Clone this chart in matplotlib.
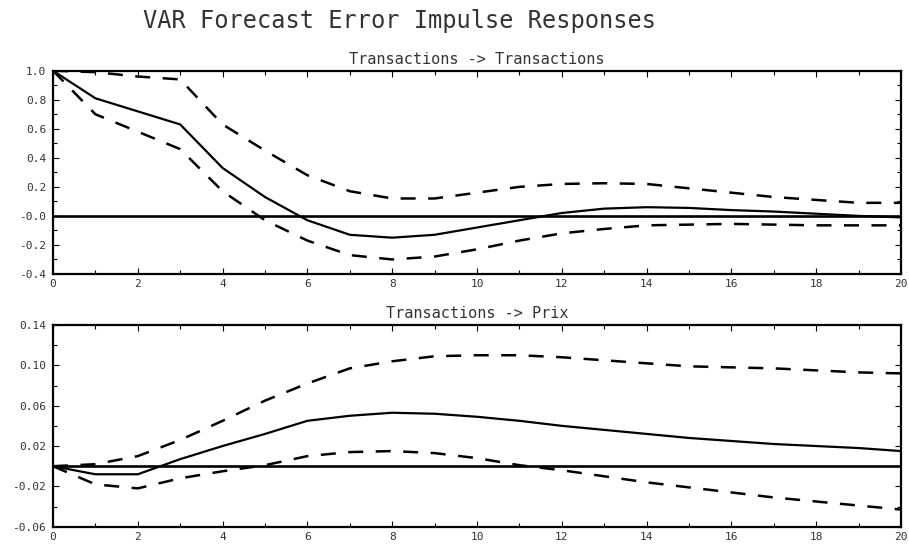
import matplotlib
matplotlib.use("Agg")
import matplotlib.pyplot as plt
import numpy as np
from matplotlib.ticker import MultipleLocator, FixedLocator

# ---------------------------------------------------------------------------
# Data
# ---------------------------------------------------------------------------
steps = np.arange(21)

tt_resp = [1.0, 0.81, 0.72, 0.63, 0.33, 0.13, -0.03, -0.13, -0.15, -0.13, -0.08,
           -0.03, 0.02, 0.05, 0.06, 0.055, 0.04, 0.03, 0.015, 0.0, -0.01]
tt_upper = [1.0, 0.99, 0.96, 0.94, 0.63, 0.45, 0.28, 0.17, 0.12, 0.12, 0.16,
            0.20, 0.22, 0.225, 0.22, 0.19, 0.16, 0.13, 0.11, 0.09, 0.09]
tt_lower = [1.0, 0.70, 0.58, 0.46, 0.17, -0.03, -0.17, -0.27, -0.30, -0.28, -0.23,
            -0.17, -0.12, -0.09, -0.065, -0.06, -0.055, -0.06, -0.065, -0.065, -0.065]

tp_resp = [0.0, -0.008, -0.008, 0.007, 0.02, 0.032, 0.045, 0.050, 0.053, 0.052, 0.049,
           0.045, 0.040, 0.036, 0.032, 0.028, 0.025, 0.022, 0.020, 0.018, 0.015]
tp_upper = [0.0, 0.002, 0.010, 0.026, 0.045, 0.065, 0.082, 0.097, 0.104, 0.109, 0.110,
            0.110, 0.108, 0.105, 0.102, 0.099, 0.098, 0.097, 0.095, 0.093, 0.092]
tp_lower = [0.0, -0.018, -0.022, -0.012, -0.005, 0.001, 0.010, 0.014, 0.015, 0.013, 0.008,
            0.001, -0.004, -0.010, -0.016, -0.021, -0.026, -0.031, -0.035, -0.039, -0.043]

tt_yticks = [-0.4, -0.2, 0.0, 0.2, 0.4, 0.6, 0.8, 1.0]
tt_ylabels = ["-0.4", "-0.2", "-0.0", "0.2", "0.4", "0.6", "0.8", "1.0"]
tp_yticks = [-0.06, -0.02, 0.02, 0.06, 0.10, 0.14]
tp_ylabels = ["-0.06", "-0.02", "0.02", "0.06", "0.10", "0.14"]

panels = [
    ("Transactions -> Transactions", tt_resp, tt_upper, tt_lower,
     (-0.4, 1.0), tt_yticks, tt_ylabels),
    ("Transactions -> Prix", tp_resp, tp_upper, tp_lower,
     (-0.06, 0.14), tp_yticks, tp_ylabels),
]

# ---------------------------------------------------------------------------
# Plot
# ---------------------------------------------------------------------------
plt.rcParams["font.family"] = "DejaVu Sans Mono"

fig = plt.figure(figsize=(9.09, 5.46), dpi=100)
fig.text(0.157, 0.962, "VAR Forecast Error Impulse Responses", fontsize=17,
         ha="left", va="center", color="#333333")

rects = [[0.0583, 0.4982, 0.9329, 0.3723],
         [0.0583, 0.0353, 0.9329, 0.3695]]

for rect, (title, resp, upper, lower, ylim, yticks, ylabels) in zip(rects, panels):
    ax = fig.add_axes(rect)
    ax.axhline(0, color="black", linewidth=1.9, zorder=2)
    ax.plot(steps, resp, color="black", linewidth=1.6, zorder=3)
    ax.plot(steps, upper, color="black", linewidth=1.8, dashes=(6, 5), zorder=3)
    ax.plot(steps, lower, color="black", linewidth=1.8, dashes=(6, 5), zorder=3)

    ax.set_xlim(0, 20)
    ax.set_ylim(*ylim)
    ax.xaxis.set_major_locator(MultipleLocator(2))
    ax.xaxis.set_minor_locator(MultipleLocator(1))
    ax.set_yticks(yticks)
    ax.set_yticklabels(ylabels)
    step = yticks[1] - yticks[0]
    ax.yaxis.set_minor_locator(FixedLocator([t + step / 2 for t in yticks[:-1]]))

    ax.tick_params(which="both", direction="in", top=True, right=True,
                   labelsize=8, labelcolor="#333333")
    ax.tick_params(axis="y", pad=5)
    ax.tick_params(which="major", length=4, width=0.8)
    ax.tick_params(which="minor", length=3, width=0.8)
    for s in ax.spines.values():
        s.set_linewidth(1.6)
    ax.set_title(title, fontsize=11, color="#333333", pad=5)

fig.savefig("out.png", dpi=100)
